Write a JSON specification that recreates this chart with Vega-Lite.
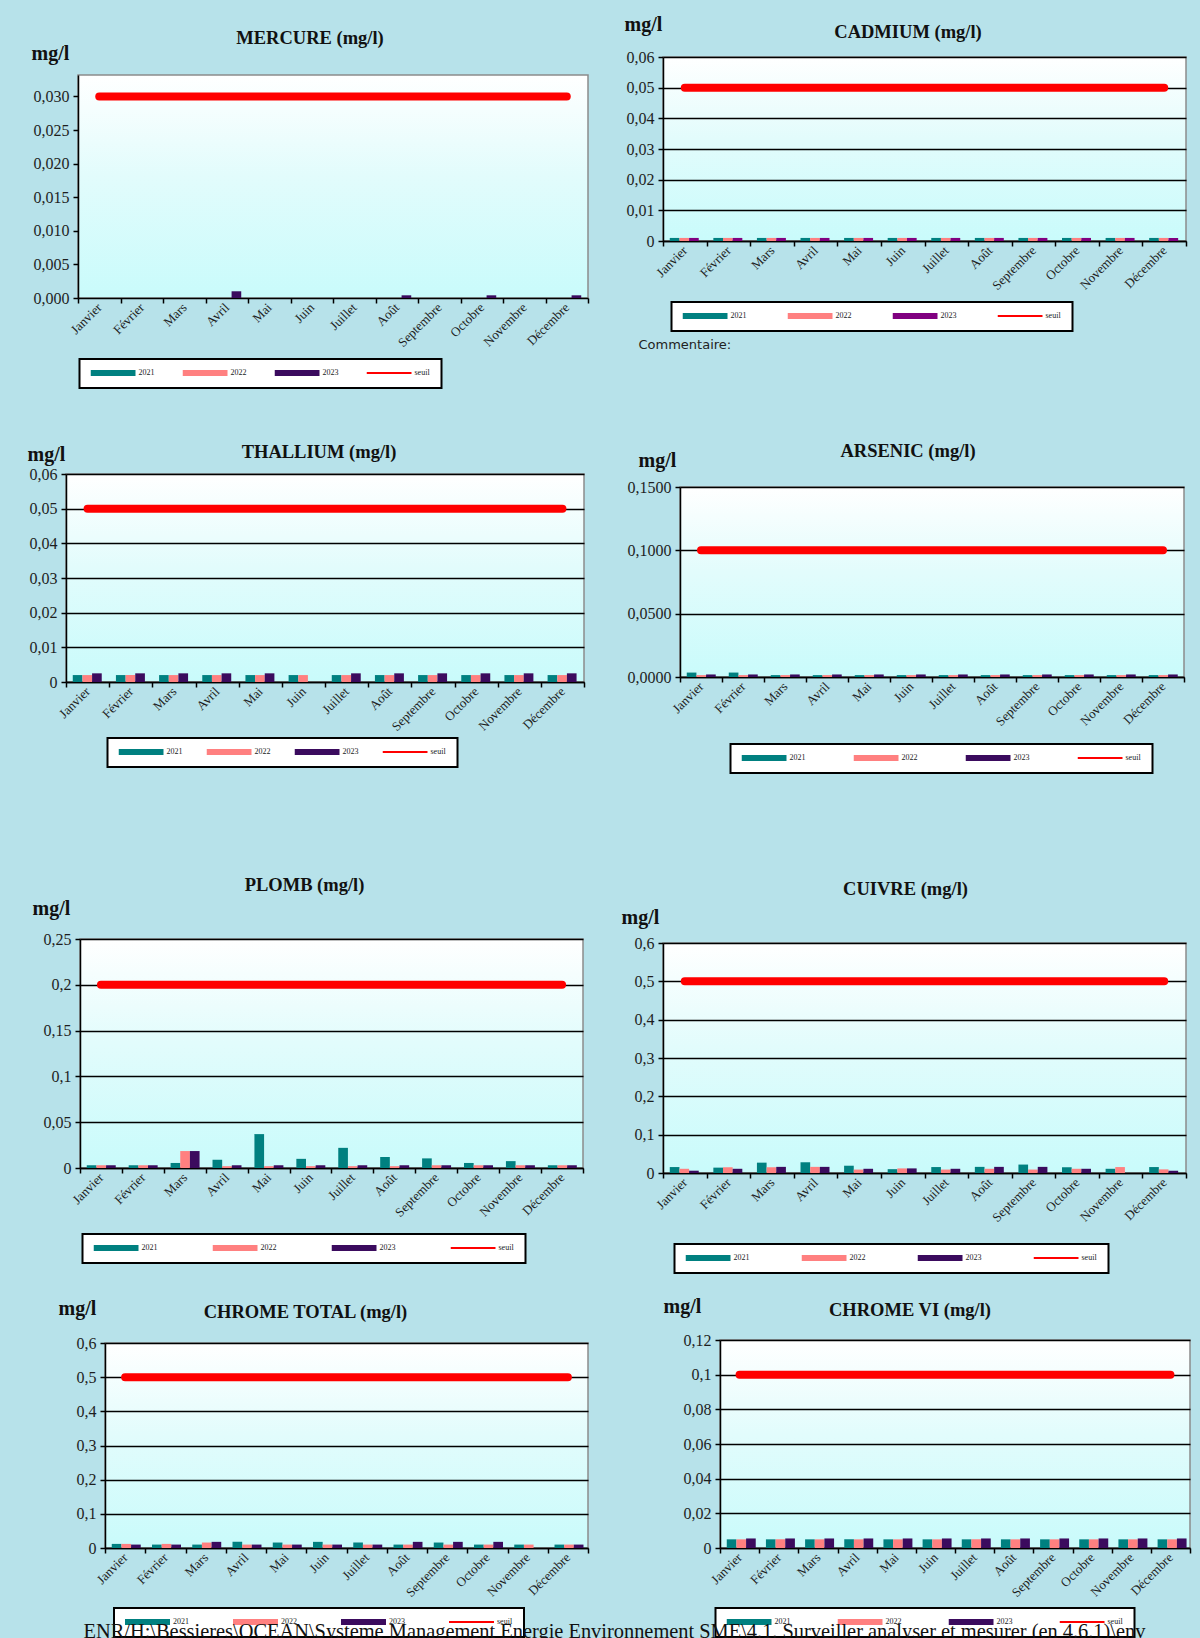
{
  "$schema": "https://vega.github.io/schema/vega-lite/v6.json",
  "background": "#b7e2ea",
  "padding": {"left": 0, "top": 0, "right": 14, "bottom": 4},
  "title": {"text": "ENR/H:\\Bessieres\\OCEAN\\Systeme Management Energie Environnement SME\\4.1. Surveiller analyser et mesurer (en 4.6.1)\\env", "orient": "bottom", "anchor": "start", "frame": "bounds", "offset": -7, "dx": 83, "baseline": "middle", "font": "Liberation Serif", "fontSize": 20.4, "fontWeight": "normal", "color": "#111111"},
  "datasets": {
    "mercure": [
      {"mois": "Avril", "serie": "2023", "valeur": 0.001},
      {"mois": "Août", "serie": "2023", "valeur": 0.0004},
      {"mois": "Octobre", "serie": "2023", "valeur": 0.0004},
      {"mois": "Décembre", "serie": "2023", "valeur": 0.0004},
      {"mois": "Janvier", "serie": "seuil", "valeur": 0.03},
      {"mois": "Février", "serie": "seuil", "valeur": 0.03},
      {"mois": "Mars", "serie": "seuil", "valeur": 0.03},
      {"mois": "Avril", "serie": "seuil", "valeur": 0.03},
      {"mois": "Mai", "serie": "seuil", "valeur": 0.03},
      {"mois": "Juin", "serie": "seuil", "valeur": 0.03},
      {"mois": "Juillet", "serie": "seuil", "valeur": 0.03},
      {"mois": "Août", "serie": "seuil", "valeur": 0.03},
      {"mois": "Septembre", "serie": "seuil", "valeur": 0.03},
      {"mois": "Octobre", "serie": "seuil", "valeur": 0.03},
      {"mois": "Novembre", "serie": "seuil", "valeur": 0.03},
      {"mois": "Décembre", "serie": "seuil", "valeur": 0.03}
    ],
    "cadmium": [
      {"mois": "Janvier", "serie": "2021", "valeur": 0.001}, {"mois": "Janvier", "serie": "2022", "valeur": 0.001}, {"mois": "Janvier", "serie": "2023", "valeur": 0.001}, {"mois": "Janvier", "serie": "seuil", "valeur": 0.05},
      {"mois": "Février", "serie": "2021", "valeur": 0.001}, {"mois": "Février", "serie": "2022", "valeur": 0.001}, {"mois": "Février", "serie": "2023", "valeur": 0.001}, {"mois": "Février", "serie": "seuil", "valeur": 0.05},
      {"mois": "Mars", "serie": "2021", "valeur": 0.001}, {"mois": "Mars", "serie": "2022", "valeur": 0.001}, {"mois": "Mars", "serie": "2023", "valeur": 0.001}, {"mois": "Mars", "serie": "seuil", "valeur": 0.05},
      {"mois": "Avril", "serie": "2021", "valeur": 0.001}, {"mois": "Avril", "serie": "2022", "valeur": 0.001}, {"mois": "Avril", "serie": "2023", "valeur": 0.001}, {"mois": "Avril", "serie": "seuil", "valeur": 0.05},
      {"mois": "Mai", "serie": "2021", "valeur": 0.001}, {"mois": "Mai", "serie": "2022", "valeur": 0.001}, {"mois": "Mai", "serie": "2023", "valeur": 0.001}, {"mois": "Mai", "serie": "seuil", "valeur": 0.05},
      {"mois": "Juin", "serie": "2021", "valeur": 0.001}, {"mois": "Juin", "serie": "2022", "valeur": 0.001}, {"mois": "Juin", "serie": "2023", "valeur": 0.001}, {"mois": "Juin", "serie": "seuil", "valeur": 0.05},
      {"mois": "Juillet", "serie": "2021", "valeur": 0.001}, {"mois": "Juillet", "serie": "2022", "valeur": 0.001}, {"mois": "Juillet", "serie": "2023", "valeur": 0.001}, {"mois": "Juillet", "serie": "seuil", "valeur": 0.05},
      {"mois": "Août", "serie": "2021", "valeur": 0.001}, {"mois": "Août", "serie": "2022", "valeur": 0.001}, {"mois": "Août", "serie": "2023", "valeur": 0.001}, {"mois": "Août", "serie": "seuil", "valeur": 0.05},
      {"mois": "Septembre", "serie": "2021", "valeur": 0.001}, {"mois": "Septembre", "serie": "2022", "valeur": 0.001}, {"mois": "Septembre", "serie": "2023", "valeur": 0.001}, {"mois": "Septembre", "serie": "seuil", "valeur": 0.05},
      {"mois": "Octobre", "serie": "2021", "valeur": 0.001}, {"mois": "Octobre", "serie": "2022", "valeur": 0.001}, {"mois": "Octobre", "serie": "2023", "valeur": 0.001}, {"mois": "Octobre", "serie": "seuil", "valeur": 0.05},
      {"mois": "Novembre", "serie": "2021", "valeur": 0.001}, {"mois": "Novembre", "serie": "2022", "valeur": 0.001}, {"mois": "Novembre", "serie": "2023", "valeur": 0.001}, {"mois": "Novembre", "serie": "seuil", "valeur": 0.05},
      {"mois": "Décembre", "serie": "2021", "valeur": 0.001}, {"mois": "Décembre", "serie": "2022", "valeur": 0.001}, {"mois": "Décembre", "serie": "2023", "valeur": 0.001}, {"mois": "Décembre", "serie": "seuil", "valeur": 0.05}
    ],
    "thallium": [
      {"mois": "Janvier", "serie": "2021", "valeur": 0.002}, {"mois": "Janvier", "serie": "2022", "valeur": 0.002}, {"mois": "Janvier", "serie": "2023", "valeur": 0.0025}, {"mois": "Janvier", "serie": "seuil", "valeur": 0.05},
      {"mois": "Février", "serie": "2021", "valeur": 0.002}, {"mois": "Février", "serie": "2022", "valeur": 0.002}, {"mois": "Février", "serie": "2023", "valeur": 0.0025}, {"mois": "Février", "serie": "seuil", "valeur": 0.05},
      {"mois": "Mars", "serie": "2021", "valeur": 0.002}, {"mois": "Mars", "serie": "2022", "valeur": 0.002}, {"mois": "Mars", "serie": "2023", "valeur": 0.0025}, {"mois": "Mars", "serie": "seuil", "valeur": 0.05},
      {"mois": "Avril", "serie": "2021", "valeur": 0.002}, {"mois": "Avril", "serie": "2022", "valeur": 0.002}, {"mois": "Avril", "serie": "2023", "valeur": 0.0025}, {"mois": "Avril", "serie": "seuil", "valeur": 0.05},
      {"mois": "Mai", "serie": "2021", "valeur": 0.002}, {"mois": "Mai", "serie": "2022", "valeur": 0.002}, {"mois": "Mai", "serie": "2023", "valeur": 0.0025}, {"mois": "Mai", "serie": "seuil", "valeur": 0.05},
      {"mois": "Juin", "serie": "2021", "valeur": 0.002}, {"mois": "Juin", "serie": "2022", "valeur": 0.002}, {"mois": "Juin", "serie": "seuil", "valeur": 0.05},
      {"mois": "Juillet", "serie": "2021", "valeur": 0.002}, {"mois": "Juillet", "serie": "2022", "valeur": 0.002}, {"mois": "Juillet", "serie": "2023", "valeur": 0.0025}, {"mois": "Juillet", "serie": "seuil", "valeur": 0.05},
      {"mois": "Août", "serie": "2021", "valeur": 0.002}, {"mois": "Août", "serie": "2022", "valeur": 0.002}, {"mois": "Août", "serie": "2023", "valeur": 0.0025}, {"mois": "Août", "serie": "seuil", "valeur": 0.05},
      {"mois": "Septembre", "serie": "2021", "valeur": 0.002}, {"mois": "Septembre", "serie": "2022", "valeur": 0.002}, {"mois": "Septembre", "serie": "2023", "valeur": 0.0025}, {"mois": "Septembre", "serie": "seuil", "valeur": 0.05},
      {"mois": "Octobre", "serie": "2021", "valeur": 0.002}, {"mois": "Octobre", "serie": "2022", "valeur": 0.002}, {"mois": "Octobre", "serie": "2023", "valeur": 0.0025}, {"mois": "Octobre", "serie": "seuil", "valeur": 0.05},
      {"mois": "Novembre", "serie": "2021", "valeur": 0.002}, {"mois": "Novembre", "serie": "2022", "valeur": 0.002}, {"mois": "Novembre", "serie": "2023", "valeur": 0.0025}, {"mois": "Novembre", "serie": "seuil", "valeur": 0.05},
      {"mois": "Décembre", "serie": "2021", "valeur": 0.002}, {"mois": "Décembre", "serie": "2022", "valeur": 0.002}, {"mois": "Décembre", "serie": "2023", "valeur": 0.0025}, {"mois": "Décembre", "serie": "seuil", "valeur": 0.05}
    ],
    "arsenic": [
      {"mois": "Janvier", "serie": "2021", "valeur": 0.0035}, {"mois": "Janvier", "serie": "2022", "valeur": 0.0015}, {"mois": "Janvier", "serie": "2023", "valeur": 0.002}, {"mois": "Janvier", "serie": "seuil", "valeur": 0.1},
      {"mois": "Février", "serie": "2021", "valeur": 0.0035}, {"mois": "Février", "serie": "2022", "valeur": 0.0015}, {"mois": "Février", "serie": "2023", "valeur": 0.002}, {"mois": "Février", "serie": "seuil", "valeur": 0.1},
      {"mois": "Mars", "serie": "2021", "valeur": 0.0015}, {"mois": "Mars", "serie": "2022", "valeur": 0.0015}, {"mois": "Mars", "serie": "2023", "valeur": 0.002}, {"mois": "Mars", "serie": "seuil", "valeur": 0.1},
      {"mois": "Avril", "serie": "2021", "valeur": 0.0015}, {"mois": "Avril", "serie": "2022", "valeur": 0.0015}, {"mois": "Avril", "serie": "2023", "valeur": 0.002}, {"mois": "Avril", "serie": "seuil", "valeur": 0.1},
      {"mois": "Mai", "serie": "2021", "valeur": 0.0015}, {"mois": "Mai", "serie": "2022", "valeur": 0.0015}, {"mois": "Mai", "serie": "2023", "valeur": 0.002}, {"mois": "Mai", "serie": "seuil", "valeur": 0.1},
      {"mois": "Juin", "serie": "2021", "valeur": 0.0015}, {"mois": "Juin", "serie": "2022", "valeur": 0.0015}, {"mois": "Juin", "serie": "2023", "valeur": 0.002}, {"mois": "Juin", "serie": "seuil", "valeur": 0.1},
      {"mois": "Juillet", "serie": "2021", "valeur": 0.0015}, {"mois": "Juillet", "serie": "2022", "valeur": 0.0015}, {"mois": "Juillet", "serie": "2023", "valeur": 0.002}, {"mois": "Juillet", "serie": "seuil", "valeur": 0.1},
      {"mois": "Août", "serie": "2021", "valeur": 0.0015}, {"mois": "Août", "serie": "2022", "valeur": 0.0015}, {"mois": "Août", "serie": "2023", "valeur": 0.002}, {"mois": "Août", "serie": "seuil", "valeur": 0.1},
      {"mois": "Septembre", "serie": "2021", "valeur": 0.0015}, {"mois": "Septembre", "serie": "2022", "valeur": 0.0015}, {"mois": "Septembre", "serie": "2023", "valeur": 0.002}, {"mois": "Septembre", "serie": "seuil", "valeur": 0.1},
      {"mois": "Octobre", "serie": "2021", "valeur": 0.0015}, {"mois": "Octobre", "serie": "2022", "valeur": 0.0015}, {"mois": "Octobre", "serie": "2023", "valeur": 0.002}, {"mois": "Octobre", "serie": "seuil", "valeur": 0.1},
      {"mois": "Novembre", "serie": "2021", "valeur": 0.0015}, {"mois": "Novembre", "serie": "2022", "valeur": 0.0015}, {"mois": "Novembre", "serie": "2023", "valeur": 0.002}, {"mois": "Novembre", "serie": "seuil", "valeur": 0.1},
      {"mois": "Décembre", "serie": "2021", "valeur": 0.0015}, {"mois": "Décembre", "serie": "2022", "valeur": 0.0015}, {"mois": "Décembre", "serie": "2023", "valeur": 0.002}, {"mois": "Décembre", "serie": "seuil", "valeur": 0.1}
    ],
    "plomb": [
      {"mois": "Janvier", "serie": "2021", "valeur": 0.003}, {"mois": "Janvier", "serie": "2022", "valeur": 0.003}, {"mois": "Janvier", "serie": "2023", "valeur": 0.003}, {"mois": "Janvier", "serie": "seuil", "valeur": 0.2},
      {"mois": "Février", "serie": "2021", "valeur": 0.003}, {"mois": "Février", "serie": "2022", "valeur": 0.003}, {"mois": "Février", "serie": "2023", "valeur": 0.003}, {"mois": "Février", "serie": "seuil", "valeur": 0.2},
      {"mois": "Mars", "serie": "2021", "valeur": 0.0055}, {"mois": "Mars", "serie": "2022", "valeur": 0.0185}, {"mois": "Mars", "serie": "2023", "valeur": 0.0185}, {"mois": "Mars", "serie": "seuil", "valeur": 0.2},
      {"mois": "Avril", "serie": "2021", "valeur": 0.009}, {"mois": "Avril", "serie": "2022", "valeur": 0.002}, {"mois": "Avril", "serie": "2023", "valeur": 0.003}, {"mois": "Avril", "serie": "seuil", "valeur": 0.2},
      {"mois": "Mai", "serie": "2021", "valeur": 0.037}, {"mois": "Mai", "serie": "2022", "valeur": 0.002}, {"mois": "Mai", "serie": "2023", "valeur": 0.003}, {"mois": "Mai", "serie": "seuil", "valeur": 0.2},
      {"mois": "Juin", "serie": "2021", "valeur": 0.01}, {"mois": "Juin", "serie": "2022", "valeur": 0.002}, {"mois": "Juin", "serie": "2023", "valeur": 0.003}, {"mois": "Juin", "serie": "seuil", "valeur": 0.2},
      {"mois": "Juillet", "serie": "2021", "valeur": 0.022}, {"mois": "Juillet", "serie": "2022", "valeur": 0.002}, {"mois": "Juillet", "serie": "2023", "valeur": 0.003}, {"mois": "Juillet", "serie": "seuil", "valeur": 0.2},
      {"mois": "Août", "serie": "2021", "valeur": 0.012}, {"mois": "Août", "serie": "2022", "valeur": 0.002}, {"mois": "Août", "serie": "2023", "valeur": 0.003}, {"mois": "Août", "serie": "seuil", "valeur": 0.2},
      {"mois": "Septembre", "serie": "2021", "valeur": 0.0105}, {"mois": "Septembre", "serie": "2022", "valeur": 0.003}, {"mois": "Septembre", "serie": "2023", "valeur": 0.003}, {"mois": "Septembre", "serie": "seuil", "valeur": 0.2},
      {"mois": "Octobre", "serie": "2021", "valeur": 0.0055}, {"mois": "Octobre", "serie": "2022", "valeur": 0.003}, {"mois": "Octobre", "serie": "2023", "valeur": 0.003}, {"mois": "Octobre", "serie": "seuil", "valeur": 0.2},
      {"mois": "Novembre", "serie": "2021", "valeur": 0.0075}, {"mois": "Novembre", "serie": "2022", "valeur": 0.003}, {"mois": "Novembre", "serie": "2023", "valeur": 0.003}, {"mois": "Novembre", "serie": "seuil", "valeur": 0.2},
      {"mois": "Décembre", "serie": "2021", "valeur": 0.003}, {"mois": "Décembre", "serie": "2022", "valeur": 0.003}, {"mois": "Décembre", "serie": "2023", "valeur": 0.003}, {"mois": "Décembre", "serie": "seuil", "valeur": 0.2}
    ],
    "cuivre": [
      {"mois": "Janvier", "serie": "2021", "valeur": 0.0155}, {"mois": "Janvier", "serie": "2022", "valeur": 0.011}, {"mois": "Janvier", "serie": "2023", "valeur": 0.006}, {"mois": "Janvier", "serie": "seuil", "valeur": 0.5},
      {"mois": "Février", "serie": "2021", "valeur": 0.014}, {"mois": "Février", "serie": "2022", "valeur": 0.015}, {"mois": "Février", "serie": "2023", "valeur": 0.011}, {"mois": "Février", "serie": "seuil", "valeur": 0.5},
      {"mois": "Mars", "serie": "2021", "valeur": 0.027}, {"mois": "Mars", "serie": "2022", "valeur": 0.015}, {"mois": "Mars", "serie": "2023", "valeur": 0.016}, {"mois": "Mars", "serie": "seuil", "valeur": 0.5},
      {"mois": "Avril", "serie": "2021", "valeur": 0.028}, {"mois": "Avril", "serie": "2022", "valeur": 0.016}, {"mois": "Avril", "serie": "2023", "valeur": 0.016}, {"mois": "Avril", "serie": "seuil", "valeur": 0.5},
      {"mois": "Mai", "serie": "2021", "valeur": 0.019}, {"mois": "Mai", "serie": "2022", "valeur": 0.009}, {"mois": "Mai", "serie": "2023", "valeur": 0.011}, {"mois": "Mai", "serie": "seuil", "valeur": 0.5},
      {"mois": "Juin", "serie": "2021", "valeur": 0.01}, {"mois": "Juin", "serie": "2022", "valeur": 0.012}, {"mois": "Juin", "serie": "2023", "valeur": 0.012}, {"mois": "Juin", "serie": "seuil", "valeur": 0.5},
      {"mois": "Juillet", "serie": "2021", "valeur": 0.0155}, {"mois": "Juillet", "serie": "2022", "valeur": 0.009}, {"mois": "Juillet", "serie": "2023", "valeur": 0.011}, {"mois": "Juillet", "serie": "seuil", "valeur": 0.5},
      {"mois": "Août", "serie": "2021", "valeur": 0.016}, {"mois": "Août", "serie": "2022", "valeur": 0.011}, {"mois": "Août", "serie": "2023", "valeur": 0.016}, {"mois": "Août", "serie": "seuil", "valeur": 0.5},
      {"mois": "Septembre", "serie": "2021", "valeur": 0.022}, {"mois": "Septembre", "serie": "2022", "valeur": 0.009}, {"mois": "Septembre", "serie": "2023", "valeur": 0.016}, {"mois": "Septembre", "serie": "seuil", "valeur": 0.5},
      {"mois": "Octobre", "serie": "2021", "valeur": 0.015}, {"mois": "Octobre", "serie": "2022", "valeur": 0.011}, {"mois": "Octobre", "serie": "2023", "valeur": 0.011}, {"mois": "Octobre", "serie": "seuil", "valeur": 0.5},
      {"mois": "Novembre", "serie": "2021", "valeur": 0.011}, {"mois": "Novembre", "serie": "2022", "valeur": 0.0155}, {"mois": "Novembre", "serie": "seuil", "valeur": 0.5},
      {"mois": "Décembre", "serie": "2021", "valeur": 0.0155}, {"mois": "Décembre", "serie": "2022", "valeur": 0.0095}, {"mois": "Décembre", "serie": "2023", "valeur": 0.006}, {"mois": "Décembre", "serie": "seuil", "valeur": 0.5}
    ],
    "chrome_total": [
      {"mois": "Janvier", "serie": "2021", "valeur": 0.012}, {"mois": "Janvier", "serie": "2022", "valeur": 0.012}, {"mois": "Janvier", "serie": "2023", "valeur": 0.01}, {"mois": "Janvier", "serie": "seuil", "valeur": 0.5},
      {"mois": "Février", "serie": "2021", "valeur": 0.01}, {"mois": "Février", "serie": "2022", "valeur": 0.012}, {"mois": "Février", "serie": "2023", "valeur": 0.01}, {"mois": "Février", "serie": "seuil", "valeur": 0.5},
      {"mois": "Mars", "serie": "2021", "valeur": 0.01}, {"mois": "Mars", "serie": "2022", "valeur": 0.016}, {"mois": "Mars", "serie": "2023", "valeur": 0.018}, {"mois": "Mars", "serie": "seuil", "valeur": 0.5},
      {"mois": "Avril", "serie": "2021", "valeur": 0.018}, {"mois": "Avril", "serie": "2022", "valeur": 0.01}, {"mois": "Avril", "serie": "2023", "valeur": 0.01}, {"mois": "Avril", "serie": "seuil", "valeur": 0.5},
      {"mois": "Mai", "serie": "2021", "valeur": 0.016}, {"mois": "Mai", "serie": "2022", "valeur": 0.01}, {"mois": "Mai", "serie": "2023", "valeur": 0.01}, {"mois": "Mai", "serie": "seuil", "valeur": 0.5},
      {"mois": "Juin", "serie": "2021", "valeur": 0.018}, {"mois": "Juin", "serie": "2022", "valeur": 0.01}, {"mois": "Juin", "serie": "2023", "valeur": 0.01}, {"mois": "Juin", "serie": "seuil", "valeur": 0.5},
      {"mois": "Juillet", "serie": "2021", "valeur": 0.016}, {"mois": "Juillet", "serie": "2022", "valeur": 0.01}, {"mois": "Juillet", "serie": "2023", "valeur": 0.01}, {"mois": "Juillet", "serie": "seuil", "valeur": 0.5},
      {"mois": "Août", "serie": "2021", "valeur": 0.01}, {"mois": "Août", "serie": "2022", "valeur": 0.01}, {"mois": "Août", "serie": "2023", "valeur": 0.018}, {"mois": "Août", "serie": "seuil", "valeur": 0.5},
      {"mois": "Septembre", "serie": "2021", "valeur": 0.016}, {"mois": "Septembre", "serie": "2022", "valeur": 0.01}, {"mois": "Septembre", "serie": "2023", "valeur": 0.018}, {"mois": "Septembre", "serie": "seuil", "valeur": 0.5},
      {"mois": "Octobre", "serie": "2021", "valeur": 0.01}, {"mois": "Octobre", "serie": "2022", "valeur": 0.01}, {"mois": "Octobre", "serie": "2023", "valeur": 0.018}, {"mois": "Octobre", "serie": "seuil", "valeur": 0.5},
      {"mois": "Novembre", "serie": "2021", "valeur": 0.01}, {"mois": "Novembre", "serie": "2022", "valeur": 0.01}, {"mois": "Novembre", "serie": "seuil", "valeur": 0.5},
      {"mois": "Décembre", "serie": "2021", "valeur": 0.01}, {"mois": "Décembre", "serie": "2022", "valeur": 0.01}, {"mois": "Décembre", "serie": "2023", "valeur": 0.01}, {"mois": "Décembre", "serie": "seuil", "valeur": 0.5}
    ],
    "chrome_vi": [
      {"mois": "Janvier", "serie": "2021", "valeur": 0.005}, {"mois": "Janvier", "serie": "2022", "valeur": 0.005}, {"mois": "Janvier", "serie": "2023", "valeur": 0.0055}, {"mois": "Janvier", "serie": "seuil", "valeur": 0.1},
      {"mois": "Février", "serie": "2021", "valeur": 0.005}, {"mois": "Février", "serie": "2022", "valeur": 0.005}, {"mois": "Février", "serie": "2023", "valeur": 0.0055}, {"mois": "Février", "serie": "seuil", "valeur": 0.1},
      {"mois": "Mars", "serie": "2021", "valeur": 0.005}, {"mois": "Mars", "serie": "2022", "valeur": 0.005}, {"mois": "Mars", "serie": "2023", "valeur": 0.0055}, {"mois": "Mars", "serie": "seuil", "valeur": 0.1},
      {"mois": "Avril", "serie": "2021", "valeur": 0.005}, {"mois": "Avril", "serie": "2022", "valeur": 0.005}, {"mois": "Avril", "serie": "2023", "valeur": 0.0055}, {"mois": "Avril", "serie": "seuil", "valeur": 0.1},
      {"mois": "Mai", "serie": "2021", "valeur": 0.005}, {"mois": "Mai", "serie": "2022", "valeur": 0.005}, {"mois": "Mai", "serie": "2023", "valeur": 0.0055}, {"mois": "Mai", "serie": "seuil", "valeur": 0.1},
      {"mois": "Juin", "serie": "2021", "valeur": 0.005}, {"mois": "Juin", "serie": "2022", "valeur": 0.005}, {"mois": "Juin", "serie": "2023", "valeur": 0.0055}, {"mois": "Juin", "serie": "seuil", "valeur": 0.1},
      {"mois": "Juillet", "serie": "2021", "valeur": 0.005}, {"mois": "Juillet", "serie": "2022", "valeur": 0.005}, {"mois": "Juillet", "serie": "2023", "valeur": 0.0055}, {"mois": "Juillet", "serie": "seuil", "valeur": 0.1},
      {"mois": "Août", "serie": "2021", "valeur": 0.005}, {"mois": "Août", "serie": "2022", "valeur": 0.005}, {"mois": "Août", "serie": "2023", "valeur": 0.0055}, {"mois": "Août", "serie": "seuil", "valeur": 0.1},
      {"mois": "Septembre", "serie": "2021", "valeur": 0.005}, {"mois": "Septembre", "serie": "2022", "valeur": 0.005}, {"mois": "Septembre", "serie": "2023", "valeur": 0.0055}, {"mois": "Septembre", "serie": "seuil", "valeur": 0.1},
      {"mois": "Octobre", "serie": "2021", "valeur": 0.005}, {"mois": "Octobre", "serie": "2022", "valeur": 0.005}, {"mois": "Octobre", "serie": "2023", "valeur": 0.0055}, {"mois": "Octobre", "serie": "seuil", "valeur": 0.1},
      {"mois": "Novembre", "serie": "2021", "valeur": 0.005}, {"mois": "Novembre", "serie": "2022", "valeur": 0.005}, {"mois": "Novembre", "serie": "2023", "valeur": 0.0055}, {"mois": "Novembre", "serie": "seuil", "valeur": 0.1},
      {"mois": "Décembre", "serie": "2021", "valeur": 0.005}, {"mois": "Décembre", "serie": "2022", "valeur": 0.005}, {"mois": "Décembre", "serie": "2023", "valeur": 0.0055}, {"mois": "Décembre", "serie": "seuil", "valeur": 0.1}
    ]
  },
  "columns": 2,
  "spacing": 0,
  "resolve": {"scale": {"color": "independent"}, "legend": {"color": "independent"}},
  "concat": [
    {"columns": 2, "spacing": 0, "resolve": {"scale": {"color": "independent"}, "legend": {"color": "independent"}}, "concat": [
      {"width": 28.1, "height": 1, "data": {"values": []}, "mark": "point", "view": {"stroke": "transparent", "fill": "transparent"}},
      {"columns": 1, "spacing": 0, "resolve": {"scale": {"color": "independent"}, "legend": {"color": "independent"}}, "concat": [
        {"width": 10, "height": 25.55, "data": {"values": []}, "mark": "point", "view": {"stroke": "transparent", "fill": "transparent"}},
        {
          "width": 510, "height": 223,
          "title": {"text": "MERCURE (mg/l)", "dx": -23, "offset": -4.25},
          "data": {"name": "mercure"},
          "encoding": {
            "x": {"field": "mois", "type": "nominal", "sort": null, "scale": {"domain": ["Janvier","Février","Mars","Avril","Mai","Juin","Juillet","Août","Septembre","Octobre","Novembre","Décembre"], "paddingInner": 0, "paddingOuter": 0}, "axis": {"title": null}},
            "y": {"field": "valeur", "type": "quantitative", "scale": {"domain": [0, 0.0332], "nice": false}, "axis": {"title": "mg/l", "titleX": -28, "titleY": -22, "values": [0, 0.005, 0.01, 0.015, 0.02, 0.025, 0.03], "labelExpr": "replace(format(datum.value, '.3f'), '.', ',')", "grid": false}}
          },
          "layer": [
            {"transform": [{"filter": "datum.serie !== 'seuil'"}], "mark": "bar",
             "encoding": {
               "xOffset": {"field": "serie", "type": "nominal", "scale": {"domain": ["2021","2022","2023"], "paddingInner": 0, "paddingOuter": 0.7}},
               "color": {"field": "serie", "type": "nominal", "scale": {"domain": ["2021","2022","2023","seuil"], "range": ["#008080","#ff8080","#3b0b5e","#ff0000"]},
                 "legend": {"title": null, "legendX": 1.5, "legendY": 284, "columnPadding": 28,
                   "encode": {"symbols": {"update": {"shape": {"signal": "datum.value === 'seuil' ? 'M-1,-0.045H1V0.045H-1Z' : 'M-1,-0.13H1V0.13H-1Z'"}}}, "legend": {"update": {"strokeWidth": {"value": 2}}}}}}
             }},
            {"transform": [{"filter": "datum.serie === 'seuil'"}], "mark": {"type": "line", "color": "#ff0000", "strokeWidth": 8, "strokeCap": "round"}, "encoding": {}}
          ]
        }
      ]}
    ]},
    {"columns": 2, "spacing": 0, "resolve": {"scale": {"color": "independent"}, "legend": {"color": "independent"}}, "concat": [
      {"width": 31.5, "height": 1, "data": {"values": []}, "mark": "point", "view": {"stroke": "transparent", "fill": "transparent"}},
      {"columns": 1, "spacing": 0, "resolve": {"scale": {"color": "independent"}, "legend": {"color": "independent"}}, "concat": [
        {"width": 10, "height": 11.4, "data": {"values": []}, "mark": "point", "view": {"stroke": "transparent", "fill": "transparent"}},
        {
          "width": 523, "height": 184,
          "title": {"text": "CADMIUM (mg/l)", "dx": -16.5, "offset": -27.25},
          "data": {"name": "cadmium"},
          "encoding": {
            "x": {"field": "mois", "type": "nominal", "sort": null, "scale": {"domain": ["Janvier","Février","Mars","Avril","Mai","Juin","Juillet","Août","Septembre","Octobre","Novembre","Décembre"], "paddingInner": 0, "paddingOuter": 0},
              "axis": {"title": "Commentaire:", "titleX": -25, "titleY": 103, "titleAlign": "left", "titleBaseline": "middle", "titleFont": "DejaVu Sans", "titleFontSize": 13, "titleFontWeight": "normal", "titleColor": "#222222"}},
            "y": {"field": "valeur", "type": "quantitative", "scale": {"domain": [0, 0.06], "nice": false}, "axis": {"title": "mg/l", "titleX": -20, "titleY": -33, "values": [0, 0.01, 0.02, 0.03, 0.04, 0.05, 0.06], "labelExpr": "replace(format(datum.value, '.2~f'), '.', ',')", "grid": true}}
          },
          "layer": [
            {"transform": [{"filter": "datum.serie !== 'seuil'"}], "mark": "bar",
             "encoding": {
               "xOffset": {"field": "serie", "type": "nominal", "scale": {"domain": ["2021","2022","2023"], "paddingInner": 0, "paddingOuter": 0.7}},
               "color": {"field": "serie", "type": "nominal", "scale": {"domain": ["2021","2022","2023","seuil"], "range": ["#008080","#ff8080","#800080","#ff0000"]},
                 "legend": {"title": null, "legendX": 8.5, "legendY": 245, "columnPadding": 41,
                   "encode": {"symbols": {"update": {"shape": {"signal": "datum.value === 'seuil' ? 'M-1,-0.045H1V0.045H-1Z' : 'M-1,-0.13H1V0.13H-1Z'"}}}, "legend": {"update": {"strokeWidth": {"value": 2}}}}}}
             }},
            {"transform": [{"filter": "datum.serie === 'seuil'"}], "mark": {"type": "line", "color": "#ff0000", "strokeWidth": 8, "strokeCap": "round"}, "encoding": {}}
          ]
        }
      ]}
    ]},
    {"columns": 2, "spacing": 0, "resolve": {"scale": {"color": "independent"}, "legend": {"color": "independent"}}, "concat": [
      {"width": 24.1, "height": 1, "data": {"values": []}, "mark": "point", "view": {"stroke": "transparent", "fill": "transparent"}},
      {"columns": 1, "spacing": 0, "resolve": {"scale": {"color": "independent"}, "legend": {"color": "independent"}}, "concat": [
        {"width": 10, "height": 50.35, "data": {"values": []}, "mark": "point", "view": {"stroke": "transparent", "fill": "transparent"}},
        {
          "width": 518, "height": 208,
          "title": {"text": "THALLIUM (mg/l)", "dx": -6, "offset": -17.25},
          "data": {"name": "thallium"},
          "encoding": {
            "x": {"field": "mois", "type": "nominal", "sort": null, "scale": {"domain": ["Janvier","Février","Mars","Avril","Mai","Juin","Juillet","Août","Septembre","Octobre","Novembre","Décembre"], "paddingInner": 0, "paddingOuter": 0}, "axis": {"title": null}},
            "y": {"field": "valeur", "type": "quantitative", "scale": {"domain": [0, 0.06], "nice": false}, "axis": {"title": "mg/l", "titleX": -20, "titleY": -20, "values": [0, 0.01, 0.02, 0.03, 0.04, 0.05, 0.06], "labelExpr": "replace(format(datum.value, '.2~f'), '.', ',')", "grid": true}}
          },
          "layer": [
            {"transform": [{"filter": "datum.serie !== 'seuil'"}], "mark": "bar",
             "encoding": {
               "xOffset": {"field": "serie", "type": "nominal", "scale": {"domain": ["2021","2022","2023"], "paddingInner": 0, "paddingOuter": 0.7}},
               "color": {"field": "serie", "type": "nominal", "scale": {"domain": ["2021","2022","2023","seuil"], "range": ["#008080","#ff8080","#3b0b5e","#ff0000"]},
                 "legend": {"title": null, "legendX": 41.5, "legendY": 264, "columnPadding": 24,
                   "encode": {"symbols": {"update": {"shape": {"signal": "datum.value === 'seuil' ? 'M-1,-0.045H1V0.045H-1Z' : 'M-1,-0.13H1V0.13H-1Z'"}}}, "legend": {"update": {"strokeWidth": {"value": 2}}}}}}
             }},
            {"transform": [{"filter": "datum.serie === 'seuil'"}], "mark": {"type": "line", "color": "#ff0000", "strokeWidth": 8, "strokeCap": "round"}, "encoding": {}}
          ]
        }
      ]}
    ]},
    {"columns": 2, "spacing": 0, "resolve": {"scale": {"color": "independent"}, "legend": {"color": "independent"}}, "concat": [
      {"width": 34, "height": 1, "data": {"values": []}, "mark": "point", "view": {"stroke": "transparent", "fill": "transparent"}},
      {"columns": 1, "spacing": 0, "resolve": {"scale": {"color": "independent"}, "legend": {"color": "independent"}}, "concat": [
        {"width": 10, "height": 48.95, "data": {"values": []}, "mark": "point", "view": {"stroke": "transparent", "fill": "transparent"}},
        {
          "width": 504, "height": 190,
          "title": {"text": "ARSENIC (mg/l)", "dx": -24, "offset": -10.25},
          "data": {"name": "arsenic"},
          "encoding": {
            "x": {"field": "mois", "type": "nominal", "sort": null, "scale": {"domain": ["Janvier","Février","Mars","Avril","Mai","Juin","Juillet","Août","Septembre","Octobre","Novembre","Décembre"], "paddingInner": 0, "paddingOuter": 0}, "axis": {"title": null}},
            "y": {"field": "valeur", "type": "quantitative", "scale": {"domain": [0, 0.15], "nice": false}, "axis": {"title": "mg/l", "titleX": -23, "titleY": -27, "values": [0, 0.05, 0.1, 0.15], "labelExpr": "replace(format(datum.value, '.4f'), '.', ',')", "grid": true}}
          },
          "layer": [
            {"transform": [{"filter": "datum.serie !== 'seuil'"}], "mark": "bar",
             "encoding": {
               "xOffset": {"field": "serie", "type": "nominal", "scale": {"domain": ["2021","2022","2023"], "paddingInner": 0, "paddingOuter": 0.7}},
               "color": {"field": "serie", "type": "nominal", "scale": {"domain": ["2021","2022","2023","seuil"], "range": ["#008080","#ff8080","#3b0b5e","#ff0000"]},
                 "legend": {"title": null, "legendX": 50.5, "legendY": 257, "columnPadding": 48,
                   "encode": {"symbols": {"update": {"shape": {"signal": "datum.value === 'seuil' ? 'M-1,-0.045H1V0.045H-1Z' : 'M-1,-0.13H1V0.13H-1Z'"}}}, "legend": {"update": {"strokeWidth": {"value": 2}}}}}}
             }},
            {"transform": [{"filter": "datum.serie === 'seuil'"}], "mark": {"type": "line", "color": "#ff0000", "strokeWidth": 8, "strokeCap": "round"}, "encoding": {}}
          ]
        }
      ]}
    ]},
    {"columns": 2, "spacing": 0, "resolve": {"scale": {"color": "independent"}, "legend": {"color": "independent"}}, "concat": [
      {"width": 29.1, "height": 1, "data": {"values": []}, "mark": "point", "view": {"stroke": "transparent", "fill": "transparent"}},
      {"columns": 1, "spacing": 0, "resolve": {"scale": {"color": "independent"}, "legend": {"color": "independent"}}, "concat": [
        {"width": 10, "height": 98.35, "data": {"values": []}, "mark": "point", "view": {"stroke": "transparent", "fill": "transparent"}},
        {
          "width": 503, "height": 229,
          "title": {"text": "PLOMB (mg/l)", "dx": -27, "offset": 3.75},
          "data": {"name": "plomb"},
          "encoding": {
            "x": {"field": "mois", "type": "nominal", "sort": null, "scale": {"domain": ["Janvier","Février","Mars","Avril","Mai","Juin","Juillet","Août","Septembre","Octobre","Novembre","Décembre"], "paddingInner": 0, "paddingOuter": 0}, "axis": {"title": null}},
            "y": {"field": "valeur", "type": "quantitative", "scale": {"domain": [0, 0.25], "nice": false}, "axis": {"title": "mg/l", "titleX": -29, "titleY": -31, "values": [0, 0.05, 0.1, 0.15, 0.2, 0.25], "labelExpr": "replace(format(datum.value, '.2~f'), '.', ',')", "grid": true}}
          },
          "layer": [
            {"transform": [{"filter": "datum.serie !== 'seuil'"}], "mark": "bar",
             "encoding": {
               "xOffset": {"field": "serie", "type": "nominal", "scale": {"domain": ["2021","2022","2023"], "paddingInner": 0, "paddingOuter": 0.7}},
               "color": {"field": "serie", "type": "nominal", "scale": {"domain": ["2021","2022","2023","seuil"], "range": ["#008080","#ff8080","#3b0b5e","#ff0000"]},
                 "legend": {"title": null, "legendX": 2.5, "legendY": 295, "columnPadding": 55,
                   "encode": {"symbols": {"update": {"shape": {"signal": "datum.value === 'seuil' ? 'M-1,-0.045H1V0.045H-1Z' : 'M-1,-0.13H1V0.13H-1Z'"}}}, "legend": {"update": {"strokeWidth": {"value": 2}}}}}}
             }},
            {"transform": [{"filter": "datum.serie === 'seuil'"}], "mark": {"type": "line", "color": "#ff0000", "strokeWidth": 8, "strokeCap": "round"}, "encoding": {}}
          ]
        }
      ]}
    ]},
    {"columns": 2, "spacing": 0, "resolve": {"scale": {"color": "independent"}, "legend": {"color": "independent"}}, "concat": [
      {"width": 28.5, "height": 1, "data": {"values": []}, "mark": "point", "view": {"stroke": "transparent", "fill": "transparent"}},
      {"columns": 1, "spacing": 0, "resolve": {"scale": {"color": "independent"}, "legend": {"color": "independent"}}, "concat": [
        {"width": 10, "height": 102.15, "data": {"values": []}, "mark": "point", "view": {"stroke": "transparent", "fill": "transparent"}},
        {
          "width": 523, "height": 230,
          "title": {"text": "CUIVRE (mg/l)", "dx": -19, "offset": 8.75},
          "data": {"name": "cuivre"},
          "encoding": {
            "x": {"field": "mois", "type": "nominal", "sort": null, "scale": {"domain": ["Janvier","Février","Mars","Avril","Mai","Juin","Juillet","Août","Septembre","Octobre","Novembre","Décembre"], "paddingInner": 0, "paddingOuter": 0}, "axis": {"title": null}},
            "y": {"field": "valeur", "type": "quantitative", "scale": {"domain": [0, 0.6], "nice": false}, "axis": {"title": "mg/l", "titleX": -23, "titleY": -26, "values": [0, 0.1, 0.2, 0.3, 0.4, 0.5, 0.6], "labelExpr": "replace(format(datum.value, '.1~f'), '.', ',')", "grid": true}}
          },
          "layer": [
            {"transform": [{"filter": "datum.serie !== 'seuil'"}], "mark": "bar",
             "encoding": {
               "xOffset": {"field": "serie", "type": "nominal", "scale": {"domain": ["2021","2022","2023"], "paddingInner": 0, "paddingOuter": 0.7}},
               "color": {"field": "serie", "type": "nominal", "scale": {"domain": ["2021","2022","2023","seuil"], "range": ["#008080","#ff8080","#3b0b5e","#ff0000"]},
                 "legend": {"title": null, "legendX": 11.5, "legendY": 301, "columnPadding": 52,
                   "encode": {"symbols": {"update": {"shape": {"signal": "datum.value === 'seuil' ? 'M-1,-0.045H1V0.045H-1Z' : 'M-1,-0.13H1V0.13H-1Z'"}}}, "legend": {"update": {"strokeWidth": {"value": 2}}}}}}
             }},
            {"transform": [{"filter": "datum.serie === 'seuil'"}], "mark": {"type": "line", "color": "#ff0000", "strokeWidth": 8, "strokeCap": "round"}, "encoding": {}}
          ]
        }
      ]}
    ]},
    {"columns": 2, "spacing": 0, "resolve": {"scale": {"color": "independent"}, "legend": {"color": "independent"}}, "concat": [
      {"width": 55.1, "height": 1, "data": {"values": []}, "mark": "point", "view": {"stroke": "transparent", "fill": "transparent"}},
      {"columns": 1, "spacing": 0, "resolve": {"scale": {"color": "independent"}, "legend": {"color": "independent"}}, "concat": [
        {"width": 10, "height": 19.8, "data": {"values": []}, "mark": "point", "view": {"stroke": "transparent", "fill": "transparent"}},
        {
          "width": 483, "height": 205,
          "title": {"text": "CHROME TOTAL (mg/l)", "dx": -41, "offset": -23.25},
          "data": {"name": "chrome_total"},
          "encoding": {
            "x": {"field": "mois", "type": "nominal", "sort": null, "scale": {"domain": ["Janvier","Février","Mars","Avril","Mai","Juin","Juillet","Août","Septembre","Octobre","Novembre","Décembre"], "paddingInner": 0, "paddingOuter": 0}, "axis": {"title": null}},
            "y": {"field": "valeur", "type": "quantitative", "scale": {"domain": [0, 0.6], "nice": false}, "axis": {"title": "mg/l", "titleX": -28, "titleY": -35, "values": [0, 0.1, 0.2, 0.3, 0.4, 0.5, 0.6], "labelExpr": "replace(format(datum.value, '.1~f'), '.', ',')", "grid": true}}
          },
          "layer": [
            {"transform": [{"filter": "datum.serie !== 'seuil'"}], "mark": "bar",
             "encoding": {
               "xOffset": {"field": "serie", "type": "nominal", "scale": {"domain": ["2021","2022","2023"], "paddingInner": 0, "paddingOuter": 0.7}},
               "color": {"field": "serie", "type": "nominal", "scale": {"domain": ["2021","2022","2023","seuil"], "range": ["#008080","#ff8080","#3b0b5e","#ff0000"]},
                 "legend": {"title": null, "legendX": 9, "legendY": 265, "columnPadding": 44,
                   "encode": {"symbols": {"update": {"shape": {"signal": "datum.value === 'seuil' ? 'M-1,-0.045H1V0.045H-1Z' : 'M-1,-0.13H1V0.13H-1Z'"}}}, "legend": {"update": {"strokeWidth": {"value": 2}}}}}}
             }},
            {"transform": [{"filter": "datum.serie === 'seuil'"}], "mark": {"type": "line", "color": "#ff0000", "strokeWidth": 8, "strokeCap": "round"}, "encoding": {}}
          ]
        }
      ]}
    ]},
    {"columns": 2, "spacing": 0, "resolve": {"scale": {"color": "independent"}, "legend": {"color": "independent"}}, "concat": [
      {"width": 70.5, "height": 1, "data": {"values": []}, "mark": "point", "view": {"stroke": "transparent", "fill": "transparent"}},
      {"columns": 1, "spacing": 0, "resolve": {"scale": {"color": "independent"}, "legend": {"color": "independent"}}, "concat": [
        {"width": 10, "height": 17.9, "data": {"values": []}, "mark": "point", "view": {"stroke": "transparent", "fill": "transparent"}},
        {
          "width": 470, "height": 208,
          "title": {"text": "CHROME VI (mg/l)", "dx": -45, "offset": -23.25},
          "data": {"name": "chrome_vi"},
          "encoding": {
            "x": {"field": "mois", "type": "nominal", "sort": null, "scale": {"domain": ["Janvier","Février","Mars","Avril","Mai","Juin","Juillet","Août","Septembre","Octobre","Novembre","Décembre"], "paddingInner": 0, "paddingOuter": 0}, "axis": {"title": null}},
            "y": {"field": "valeur", "type": "quantitative", "scale": {"domain": [0, 0.12], "nice": false}, "axis": {"title": "mg/l", "titleX": -38, "titleY": -34, "values": [0, 0.02, 0.04, 0.06, 0.08, 0.1, 0.12], "labelExpr": "replace(format(datum.value, '.2~f'), '.', ',')", "grid": true}}
          },
          "layer": [
            {"transform": [{"filter": "datum.serie !== 'seuil'"}], "mark": "bar",
             "encoding": {
               "xOffset": {"field": "serie", "type": "nominal", "scale": {"domain": ["2021","2022","2023"], "paddingInner": 0, "paddingOuter": 0.7}},
               "color": {"field": "serie", "type": "nominal", "scale": {"domain": ["2021","2022","2023","seuil"], "range": ["#008080","#ff8080","#3b0b5e","#ff0000"]},
                 "legend": {"title": null, "legendX": -4.5, "legendY": 268, "columnPadding": 47,
                   "encode": {"symbols": {"update": {"shape": {"signal": "datum.value === 'seuil' ? 'M-1,-0.045H1V0.045H-1Z' : 'M-1,-0.13H1V0.13H-1Z'"}}}, "legend": {"update": {"strokeWidth": {"value": 2}}}}}}
             }},
            {"transform": [{"filter": "datum.serie === 'seuil'"}], "mark": {"type": "line", "color": "#ff0000", "strokeWidth": 8, "strokeCap": "round"}, "encoding": {}}
          ]
        }
      ]}
    ]}
  ],
  "config": {
    "view": {"stroke": "#8c8c8c", "strokeWidth": 1.5, "fill": {"gradient": "linear", "x1": 0, "y1": 0, "x2": 0, "y2": 1, "stops": [{"offset": 0, "color": "#ffffff"}, {"offset": 0.45, "color": "#e2fcfc"}, {"offset": 1, "color": "#c9fbfb"}]}},
    "axis": {"labelFont": "Liberation Serif", "labelColor": "#1e1e1e", "domainColor": "#000000", "domainWidth": 1.5, "tickColor": "#000000", "tickWidth": 1.5, "tickSize": 5, "titleFont": "Liberation Serif", "titleColor": "#111111"},
    "axisY": {"labelFontSize": 16, "labelPadding": 4, "gridColor": "#000000", "gridWidth": 1.3, "gridOpacity": 1, "titleFontSize": 20, "titleFontWeight": "bold", "titleAngle": 0, "titleAlign": "center", "titleBaseline": "middle"},
    "axisX": {"labelFontSize": 13, "labelAngle": -45, "labelAlign": "right", "labelBaseline": "middle", "labelPadding": 2, "labelOverlap": false, "labelLimit": 0, "tickBand": "extent", "grid": false},
    "legend": {"orient": "none", "direction": "horizontal", "columns": 4, "symbolType": "M-1,-0.13H1V0.13H-1Z", "symbolSize": 2025, "symbolStrokeWidth": 0, "clipHeight": 6, "labelFont": "Liberation Serif", "labelFontSize": 8, "labelColor": "#222222", "labelOffset": 3, "labelBaseline": "middle", "padding": 11, "strokeColor": "#000000", "fillColor": "#ffffff"},
    "title": {"font": "Liberation Serif", "fontSize": 18.5, "fontWeight": "bold", "color": "#111111", "frame": "group", "anchor": "middle", "baseline": "bottom"}
  }
}
